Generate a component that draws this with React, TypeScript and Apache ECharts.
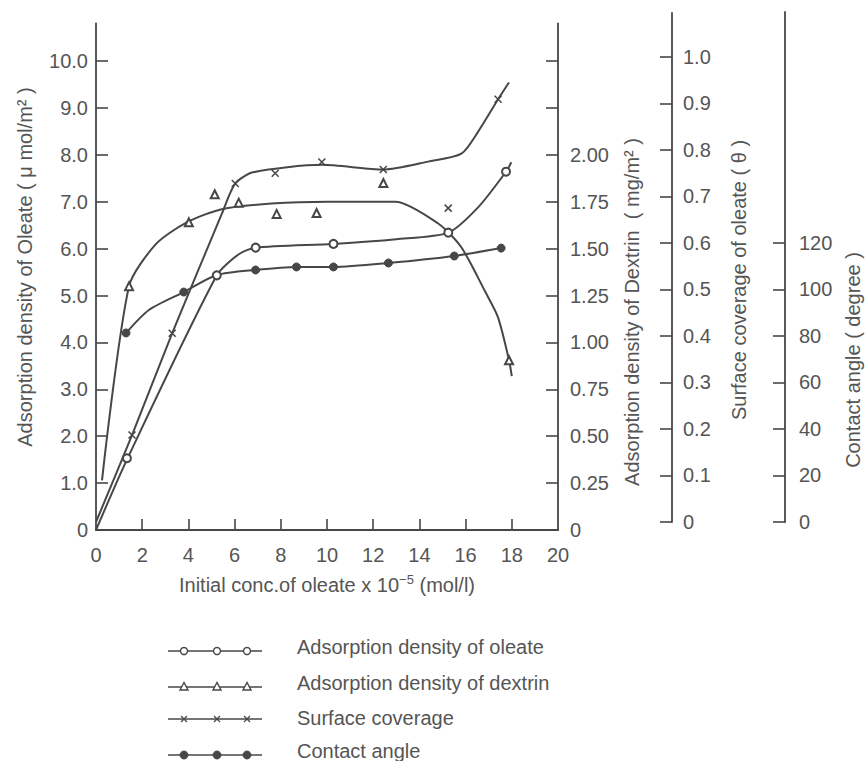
import React, { useEffect, useRef } from "react";
import * as echarts from "echarts";

// ---- data ----
const xTickLabels = [0, 2, 4, 6, 8, 10, 12, 14, 16, 18, 20];
const xInnerTicks = [2, 4, 6, 8, 10, 12, 14, 16, 18];
const oleateTicks = [0, 1, 2, 3, 4, 5, 6, 7, 8, 9, 10];
const dextrinTicks = [0, 0.25, 0.5, 0.75, 1, 1.25, 1.5, 1.75, 2, 2.25, 2.5];
const dextrinLabels = [0, 0.25, 0.5, 0.75, 1, 1.25, 1.5, 1.75, 2];
const coverageTicks = [0, 0.1, 0.2, 0.3, 0.4, 0.5, 0.6, 0.7, 0.8, 0.9, 1.0];
const contactTicks = [0, 20, 40, 60, 80, 100, 120];

// Adsorption density of oleate (µmol/m²)
const oleatePoints = [[1.34, 1.53], [5.23, 5.43], [6.91, 6.02], [10.28, 6.1], [15.25, 6.34], [17.75, 7.64]];
const oleateCurve = [[0, 0], [1.34, 1.5], [5.23, 5.43], [6.18, 5.88], [6.91, 6.02], [10.28, 6.1], [13.0, 6.2], [15.25, 6.34], [16.54, 6.88], [17.75, 7.64], [17.98, 7.84]];

// Adsorption density of dextrin (mg/m²)
const dextrinPoints = [[1.43, 1.3], [4.02, 1.64], [5.14, 1.79], [6.18, 1.745], [7.82, 1.685], [9.55, 1.69], [12.44, 1.85], [17.88, 0.905]];
const dextrinCurve = [[0.26, 0.265], [1.43, 1.3], [2.6, 1.525], [3.93, 1.64], [5.44, 1.71], [7.6, 1.74], [10.06, 1.75], [12.95, 1.75], [14.8, 1.635], [15.8, 1.51], [16.83, 1.275], [17.4, 1.135], [17.88, 0.905], [18.0, 0.82]];

// Surface coverage of oleate (θ)
const coveragePoints = [[1.56, 0.187], [3.3, 0.406], [6.03, 0.728], [7.76, 0.75], [9.78, 0.774], [12.44, 0.758], [15.25, 0.675], [17.41, 0.909]];
const coverageCurve = [[0, 0], [1.56, 0.187], [3.3, 0.406], [5.46, 0.664], [6.03, 0.728], [6.8, 0.752], [9.78, 0.768], [12.44, 0.758], [14.38, 0.775], [15.82, 0.792], [16.54, 0.839], [17.41, 0.909], [17.88, 0.945]];

// Contact angle (degree)
const contactPoints = [[1.3, 81.3], [3.8, 98.9], [6.91, 108.4], [8.68, 109.7], [10.28, 109.7], [12.66, 111.4], [15.51, 114.4], [17.54, 117.8]];
const contactCurve = [[1.3, 81.3], [2.29, 91.2], [3.8, 98.9], [5.23, 106.2], [6.91, 108.4], [8.68, 109.7], [10.28, 109.7], [12.66, 111.4], [15.51, 114.4], [17.54, 117.8]];

const legendNames = [
  "Adsorption density of oleate",
  "Adsorption density of dextrin",
  "Surface coverage",
  "Contact angle",
];

const TEXT = "#555555";
const LINE = "#474747";
const FONT = "'Liberation Sans', Arial, Helvetica, sans-serif";
const XMARK = "path://M0,0L10,10M10,0L0,10";

function axisBase(tickVals: number[], labelVals: number[], fmt: (v: number) => string, margin: number, tickLen: number) {
  return {
    type: "value",
    axisLine: { show: true, onZero: false, lineStyle: { color: LINE, width: 1.8 } },
    axisTick: { show: true, inside: true, length: tickLen, customValues: tickVals, lineStyle: { color: LINE, width: 1.6 } },
    axisLabel: { show: true, customValues: labelVals, formatter: fmt, margin, color: TEXT, fontSize: 20, fontFamily: FONT },
    splitLine: { show: false },
  };
}

export default function App() {
  const ref = useRef<HTMLDivElement>(null);
  useEffect(() => {
    if (!ref.current) return;
    const chart = echarts.init(ref.current, null, { renderer: "svg" });

    const legendGraphics: any[] = [];
    const rows = [647, 683, 718, 751];
    const iconDy = [4, 4, 1, 4];
    const mx = [184, 217, 247];
    rows.forEach((ty, i) => {
      const iy = ty + iconDy[i];
      legendGraphics.push({ type: "line", shape: { x1: 168, y1: iy, x2: 262, y2: iy }, style: { stroke: LINE, lineWidth: 1.5 } });
      mx.forEach((x) => {
        if (i === 0) legendGraphics.push({ type: "circle", shape: { cx: x, cy: iy, r: 3.5 }, style: { fill: "#fff", stroke: LINE, lineWidth: 1.4 } });
        if (i === 1) legendGraphics.push({ type: "polygon", shape: { points: [[x, iy - 4.5], [x - 4, iy + 3], [x + 4, iy + 3]] }, style: { fill: "#fff", stroke: LINE, lineWidth: 1.4 } });
        if (i === 2) {
          legendGraphics.push({ type: "line", shape: { x1: x - 3, y1: iy - 3, x2: x + 3, y2: iy + 3 }, style: { stroke: LINE, lineWidth: 1.3 } });
          legendGraphics.push({ type: "line", shape: { x1: x + 3, y1: iy - 3, x2: x - 3, y2: iy + 3 }, style: { stroke: LINE, lineWidth: 1.3 } });
        }
        if (i === 3) legendGraphics.push({ type: "circle", shape: { cx: x, cy: iy, r: 4 }, style: { fill: LINE, stroke: LINE, lineWidth: 1 } });
      });
      legendGraphics.push({ type: "text", x: 297, y: ty, style: { text: legendNames[i], fill: TEXT, font: `20px ${FONT}`, textAlign: "left", textVerticalAlign: "middle" } });
    });

    const vTitle = (x: number, y: number, text: string) => ({
      type: "text", x, y, rotation: Math.PI / 2,
      style: { text, fill: TEXT, font: `20px ${FONT}`, textAlign: "center", textVerticalAlign: "middle" },
    });

    const lineSeries = (name: string, data: number[][], xi: number, yi: number) => ({
      name, type: "line", data, xAxisIndex: xi, yAxisIndex: yi, smooth: 0.25,
      showSymbol: false, symbol: "none", lineStyle: { color: LINE, width: 2 }, z: 2, silent: true,
    });
    const markSeries = (name: string, data: number[][], xi: number, yi: number, symbol: string, size: number, filled: boolean) => ({
      name, type: "scatter", data, xAxisIndex: xi, yAxisIndex: yi, symbol, symbolSize: size, z: 3,
      itemStyle: filled
        ? { color: LINE, borderColor: LINE, borderWidth: 1, opacity: 1 }
        : { color: symbol === XMARK ? "none" : LINE, borderColor: LINE, borderWidth: 1.5, opacity: 1 },
    });

    chart.setOption({
      animation: false,
      backgroundColor: "#ffffff",
      textStyle: { fontFamily: FONT },
      grid: [
        { left: 96, right: 307, top: 23.5, bottom: 231 },
        { left: 96, right: 193, top: 13, bottom: 239 },
        { left: 96, right: 80, top: 12, bottom: 239 },
      ],
      xAxis: [
        { ...axisBase(xInnerTicks, xTickLabels, (v: number) => String(v), 15, 11), gridIndex: 0, min: 0, max: 20 },
        { type: "value", gridIndex: 1, min: 0, max: 24.94, show: false },
        { type: "value", gridIndex: 2, min: 0, max: 29.83, show: false },
      ],
      yAxis: [
        { ...axisBase(oleateTicks, oleateTicks, (v: number) => (v === 0 ? "0" : v.toFixed(1)), 8, 12), gridIndex: 0, position: "left", min: 0, max: 10.8 },
        { ...axisBase(dextrinTicks, dextrinLabels, (v: number) => (v === 0 ? "0" : v.toFixed(2)), 12, 12), gridIndex: 0, position: "right", min: 0, max: 2.7 },
        { ...axisBase(coverageTicks, coverageTicks, (v: number) => (v === 0 ? "0" : v.toFixed(1)), 11, 12), gridIndex: 1, position: "right", min: 0, max: 1.0946 },
        { ...axisBase(contactTicks, contactTicks, (v: number) => String(v), 14, 12), gridIndex: 2, position: "right", min: 0, max: 219.35 },
      ],
      series: [
        lineSeries("oleateCurve", oleateCurve, 0, 0),
        markSeries(legendNames[0], oleatePoints, 0, 0, "emptyCircle", 8, false),
        lineSeries("dextrinCurve", dextrinCurve, 0, 1),
        markSeries(legendNames[1], dextrinPoints, 0, 1, "emptyTriangle", 8, false),
        lineSeries("coverageCurve", coverageCurve, 1, 2),
        markSeries(legendNames[2], coveragePoints, 1, 2, XMARK, 7, false),
        lineSeries("contactCurve", contactCurve, 2, 3),
        markSeries(legendNames[3], contactPoints, 2, 3, "circle", 8, true),
      ],
      graphic: [
        vTitle(25, 267, "Adsorption density of Oleate ( μ mol/m² )"),
        vTitle(632, 312, "Adsorption density of Dextrin  ( mg/m² )"),
        vTitle(739, 280, "Surface coverage of oleate ( θ )"),
        vTitle(853, 360, "Contact angle ( degree )"),
        {
          type: "text", x: 327, y: 585,
          style: {
            text: "{a|Initial conc.of oleate x 10}{s|−5}{a| (mol/l)}",
            textAlign: "center", textVerticalAlign: "middle",
            rich: {
              a: { fontSize: 20, fontFamily: FONT, fill: TEXT, lineHeight: 24 },
              s: { fontSize: 13, fontFamily: FONT, fill: TEXT, lineHeight: 14, verticalAlign: "top" },
            },
          },
        },
        ...legendGraphics,
      ],
    });
    return () => chart.dispose();
  }, []);
  return <div ref={ref} style={{ position: "fixed", left: 0, top: 0, width: 865, height: 761, background: "#fff" }} />;
}
